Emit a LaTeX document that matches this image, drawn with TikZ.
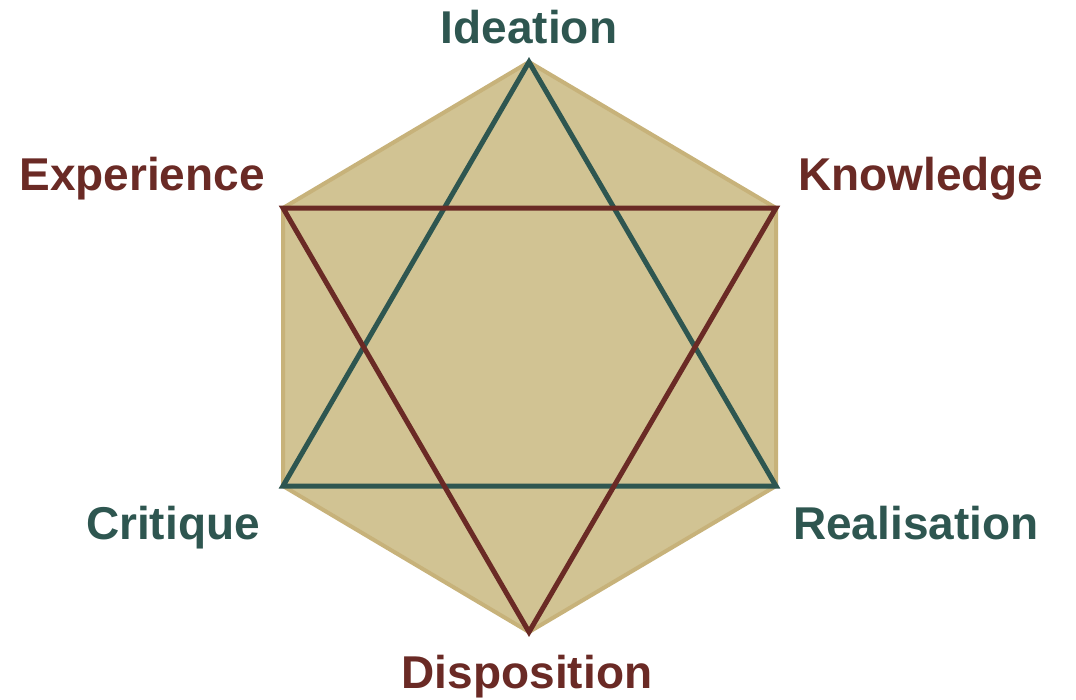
\documentclass[tikz,border=0pt]{standalone}
\usepackage{fontspec}
\setmainfont{Liberation Sans}
\definecolor{hexfill}{HTML}{D1C393}
\definecolor{hexedge}{HTML}{C7B27A}
\definecolor{tgreen}{HTML}{2E5650}
\definecolor{tred}{HTML}{6A2A25}
\begin{document}
\begin{tikzpicture}[x=1pt,y=-1pt,
  lbl/.style={inner sep=0pt,font=\fontsize{46}{50}\selectfont\bfseries},
  greenline/.style={draw=tgreen,line width=5pt,line join=miter},
  redline/.style={draw=tred,line width=5pt,line join=miter}]
\useasboundingbox (0,0) rectangle (1076,699);
\coordinate (I) at (529,62);
\coordinate (K) at (776,208);
\coordinate (R) at (776,486);
\coordinate (D) at (529,632);
\coordinate (C) at (283,486);
\coordinate (E) at (283,208);
\fill[hexfill,draw=hexedge,line width=4pt,line join=miter] (I) -- (K) -- (R) -- (D) -- (C) -- (E) -- cycle;
\draw[greenline] (I) -- (R) -- (C) -- cycle;
\draw[redline] (E) -- (K) -- (D) -- cycle;
\node[lbl,text=tgreen,anchor=base] (ti) at (529,43) {Ideation};
\node[lbl,text=tred,anchor=base east] (te) at (265,190) {Experience};
\node[lbl,text=tred,anchor=base west] (tk) at (798,190) {Knowledge};
\node[lbl,text=tgreen,anchor=base east] (tc) at (260,539) {Critique};
\node[lbl,text=tgreen,anchor=base west] (tr) at (793,539) {Realisation};
\node[lbl,text=tred,anchor=base] (td) at (527,688) {Disposition};
\end{tikzpicture}
\end{document}
